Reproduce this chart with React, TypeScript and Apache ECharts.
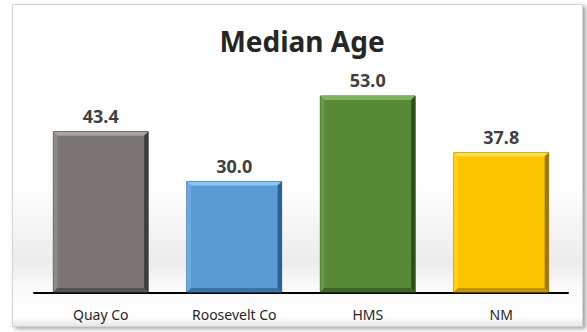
import React, { useEffect, useRef } from "react";
import * as echarts from "echarts";

const categories = ["Quay Co", "Roosevelt Co", "HMS", "NM"];
const values = [43.4, 30.0, 53.0, 37.8];
const titleText = "Median Age";

const palettes = [
  { face: "#7b7674", top: "#a9a5a3", left: "#8f8a88", right: "#403c3b", bottom: "#56524f", stroke: "#4a4644" },
  { face: "#5b9bd5", top: "#90c2ef", left: "#6ea9e0", right: "#2b5f92", bottom: "#3b72a8", stroke: "#2f66a0" },
  { face: "#578a35", top: "#82b35c", left: "#68994a", right: "#2f4e1c", bottom: "#3d6525", stroke: "#35561f" },
  { face: "#fdc400", top: "#ffdc50", left: "#ffd01e", right: "#a07a00", bottom: "#c29400", stroke: "#a88000" },
];

const FONT = "'Noto Sans', sans-serif";

export default function App() {
  const ref = useRef<HTMLDivElement>(null);
  useEffect(() => {
    if (!ref.current) return;
    const chart = echarts.init(ref.current, undefined, { renderer: "svg" });
    const renderItem = (params: any, api: any) => {
      const idx = api.value(0);
      const val = api.value(1);
      const p = palettes[idx % palettes.length];
      const topPt = api.coord([idx, val]);
      const basePt = api.coord([idx, 0]);
      const w = api.size([1, 0])[0] * 0.71;
      const x0 = topPt[0] - w / 2;
      const x1 = topPt[0] + w / 2;
      const y0 = topPt[1];
      const y1 = basePt[1] - 1;
      const b = 4;
      return {
        type: "group",
        children: [
          { type: "rect", shape: { x: x0, y: y0, width: w, height: y1 - y0 }, style: { fill: p.face, stroke: p.stroke, lineWidth: 1 } },
          { type: "polygon", shape: { points: [[x0, y0], [x1, y0], [x1 - b, y0 + b], [x0 + b, y0 + b]] }, style: { fill: p.top } },
          { type: "polygon", shape: { points: [[x0, y0], [x0 + b, y0 + b], [x0 + b, y1 - b], [x0, y1]] }, style: { fill: p.left } },
          { type: "polygon", shape: { points: [[x1, y0], [x1, y1], [x1 - b, y1 - b], [x1 - b, y0 + b]] }, style: { fill: p.right } },
          { type: "polygon", shape: { points: [[x0, y1], [x1, y1], [x1 - b, y1 - b], [x0 + b, y1 - b]] }, style: { fill: p.bottom } },
          {
            type: "text",
            x: topPt[0],
            y: y0 - 7,
            style: {
              text: val.toFixed(1),
              textAlign: "center",
              textVerticalAlign: "bottom",
              fill: "#404040",
              font: `bold 18px ${FONT}`,
            },
          },
        ],
      };
    };
    chart.setOption({
      animation: false,
      backgroundColor: "#ffffff",
      title: {
        text: titleText,
        left: 297,
        textAlign: "center",
        top: 22,
        textStyle: { fontFamily: FONT, fontWeight: "bold", fontSize: 28, color: "#262626" },
      },
      graphic: [
        {
          type: "rect",
          z: -10,
          silent: true,
          shape: { x: 12.5, y: 4.5, width: 570, height: 322 },
          style: {
            fill: {
              type: "linear",
              x: 0, y: 0, x2: 0, y2: 1,
              colorStops: [
                { offset: 0, color: "#ffffff" },
                { offset: 0.55, color: "#ffffff" },
                { offset: 0.8, color: "#ececec" },
                { offset: 0.88, color: "#fafafa" },
                { offset: 0.97, color: "#ffffff" },
                { offset: 1, color: "#e6e6e6" },
              ],
            },
            stroke: "#d4d4d4",
            lineWidth: 1,
            shadowBlur: 4,
            shadowOffsetX: 3,
            shadowOffsetY: 2,
            shadowColor: "rgba(0,0,0,0.35)",
          },
        },
      ],
      grid: { left: 34, right: 19, top: 70, bottom: 39 },
      xAxis: {
        type: "category",
        data: categories,
        axisLine: { show: true, lineStyle: { color: "#000000", width: 2 } },
        axisTick: { show: false },
        axisLabel: { margin: 14, fontSize: 14, fontFamily: FONT, color: "#262626" },
      },
      yAxis: {
        type: "value",
        min: 0,
        max: 60,
        show: false,
        splitLine: { show: false },
      },
      series: [
        {
          type: "custom",
          renderItem,
          encode: { x: 0, y: 1 },
          data: values.map((v, i) => [i, v]),
          z: 3,
        },
      ],
    });
    return () => chart.dispose();
  }, []);
  return (
    <div
      ref={ref}
      style={{ position: "fixed", left: 0, top: 0, width: 587, height: 332 }}
    />
  );
}
